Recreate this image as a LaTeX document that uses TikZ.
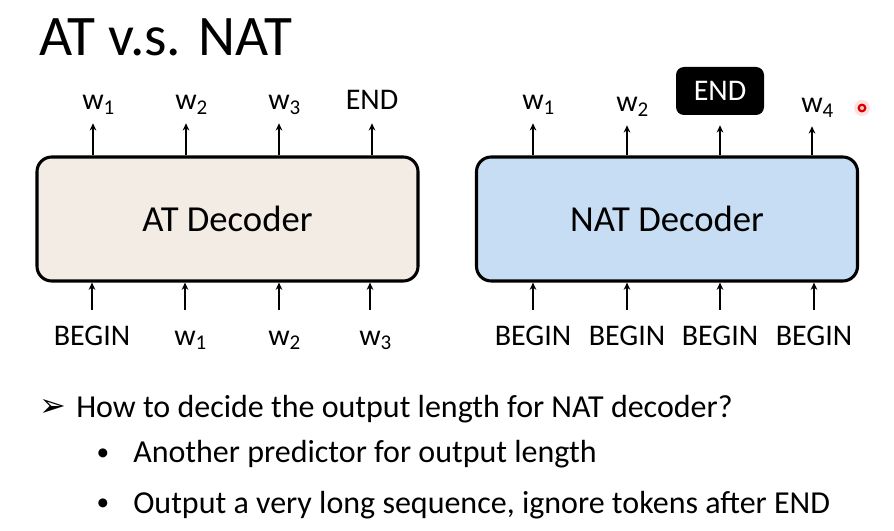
\documentclass[tikz,border=0pt]{standalone}
\usepackage{fontspec}
\setmainfont{Carlito}
\newfontfamily\symfont{DejaVu Sans}
\usetikzlibrary{arrows.meta, positioning, calc}
\definecolor{atbeige}{RGB}{243,236,228}
\definecolor{natblue}{RGB}{199,221,243}
\tikzset{
    decoder/.style={rectangle, rounded corners=11pt, draw=black, line width=2.3pt, minimum width=285.75pt, minimum height=93pt, text centered, font=\fontsize{27.5}{32}\selectfont},
    outtoken/.style={inner sep=0pt, text depth=0pt, anchor=base, font=\fontsize{22.5}{26}\selectfont},
    intoken/.style={inner sep=0pt, text height=14.5pt, anchor=north, font=\fontsize{22.5}{26}\selectfont},
    endbox/.style={rectangle, rounded corners=6pt, fill=black, text=white, minimum width=66pt, minimum height=36pt, inner sep=0pt, font=\fontsize{22.5}{26}\selectfont},
    bulletline/.style={inner sep=0pt, anchor=base west, font=\fontsize{24}{28}\selectfont},
    bulletmark/.style={inner sep=0pt, anchor=center, font=\fontsize{19}{22}\selectfont},
    arrow/.style={line width=1.5pt, -{Stealth[length=5.5pt, width=5pt]}}
}

\begin{document}
\begin{tikzpicture}[x=0.75pt, y=-0.75pt]
    \useasboundingbox (0,0) rectangle (894,531);
    \node (title) [anchor=base west, inner sep=0pt, font=\fontsize{43}{50}\selectfont] at (39,56) {AT v.s. NAT};

    % decoders
    \node (at) [decoder, fill=atbeige] at (227.5,219) {AT Decoder};
    \node (nat) [decoder, fill=natblue] at (667,219) {NAT Decoder};

    % AT outputs
    \node (ao1) [outtoken] at (93,110) {w\rlap{\textsubscript{1}}};
    \node (ao2) [outtoken] at (186,110) {w\rlap{\textsubscript{2}}};
    \node (ao3) [outtoken] at (279,110) {w\rlap{\textsubscript{3}}};
    \node (ao4) [outtoken] at (372,110) {END};

    % AT inputs
    \node (ai1) [intoken] at (92,326) {BEGIN};
    \node (ai2) [intoken] at (185,326) {w\rlap{\textsubscript{1}}};
    \node (ai3) [intoken] at (279,326) {w\rlap{\textsubscript{2}}};
    \node (ai4) [intoken] at (370,326) {w\rlap{\textsubscript{3}}};

    % NAT outputs
    \node (no1) [outtoken] at (533,110) {w\rlap{\textsubscript{1}}};
    \node (no2) [outtoken] at (627,112) {w\rlap{\textsubscript{2}}};
    \node (nend) [endbox] at (720,91) {END};
    \node (no4) [outtoken] at (812,113) {w\rlap{\textsubscript{4}}};

    % NAT inputs
    \node (ni1) [intoken] at (533,326) {BEGIN};
    \node (ni2) [intoken] at (627,326) {BEGIN};
    \node (ni3) [intoken] at (720,326) {BEGIN};
    \node (ni4) [intoken] at (814,326) {BEGIN};

    % pointer dot
    \node (dot) [circle, fill=red!12, minimum size=12pt, inner sep=0pt] at (862,108) {};
    \node (dotring) [circle, draw=red!85!black, line width=1.6pt, fill=red!25, minimum size=5pt, inner sep=0pt] at (dot) {};

    \draw [arrow, shorten >=9.75pt] (ao1.south |- at.north) -- (ao1.south);
    \draw [arrow, shorten >=9.75pt] (ao2.south |- at.north) -- (ao2.south);
    \draw [arrow, shorten >=9.75pt] (ao3.south |- at.north) -- (ao3.south);
    \draw [arrow, shorten >=9.75pt] (ao4.south |- at.north) -- (ao4.south);
    \draw [arrow, shorten <=12pt] (ai1.north) -- (ai1.north |- at.south);
    \draw [arrow, shorten <=12pt] (ai2.north) -- (ai2.north |- at.south);
    \draw [arrow, shorten <=12pt] (ai3.north) -- (ai3.north |- at.south);
    \draw [arrow, shorten <=12pt] (ai4.north) -- (ai4.north |- at.south);

    \draw [arrow, shorten >=9.75pt] (no1.south |- nat.north) -- (no1.south);
    \draw [arrow, shorten >=9.75pt] (no2.south |- nat.north) -- (no2.south);
    \draw [arrow, shorten >=7.5pt] (nend.south |- nat.north) -- (nend.south);
    \draw [arrow, shorten >=9.75pt] (no4.south |- nat.north) -- (no4.south);
    \draw [arrow, shorten <=12pt] (ni1.north) -- (ni1.north |- nat.south);
    \draw [arrow, shorten <=12pt] (ni2.north) -- (ni2.north |- nat.south);
    \draw [arrow, shorten <=12pt] (ni3.north) -- (ni3.north |- nat.south);
    \draw [arrow, shorten <=12pt] (ni4.north) -- (ni4.north |- nat.south);

    % question and answers
    \node (qmark) [inner sep=0pt, anchor=center, font=\symfont\fontsize{24}{28}\selectfont] at (53,408) {➢};
    \node (q) [bulletline] at (76,418) {How to decide the output length for NAT decoder?};
    \node (b1) [bulletmark] at (103,455) {•};
    \node (a1) [bulletline] at (133,463) {Another predictor for output length};
    \node (b2) [bulletmark] at (103,505) {•};
    \node (a2) [bulletline] at (133,513) {Output a very long sequence, ignore tokens after END};
\end{tikzpicture}
\end{document}
